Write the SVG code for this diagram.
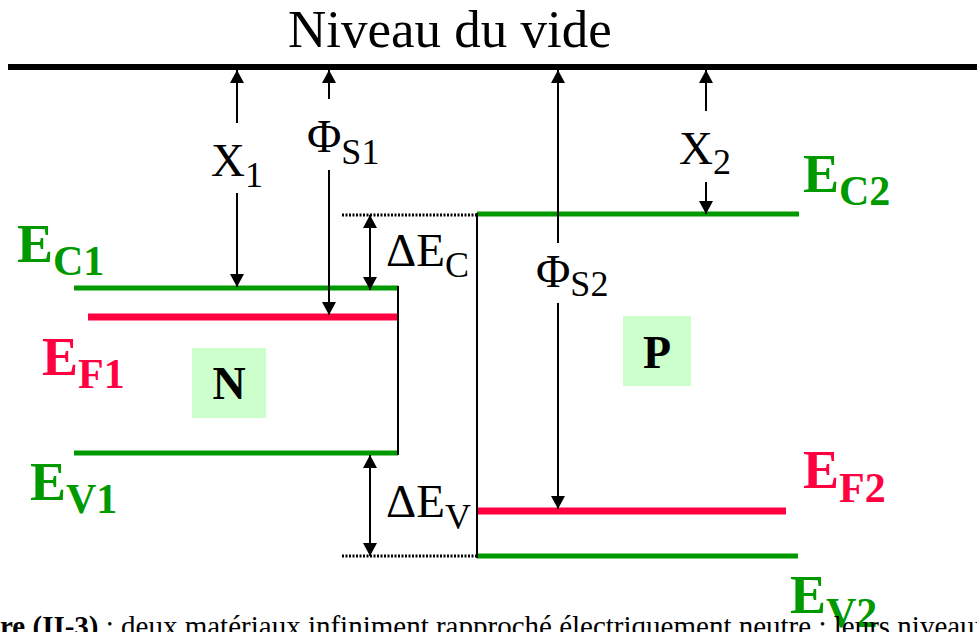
<svg xmlns="http://www.w3.org/2000/svg" width="977" height="632" viewBox="0 0 977 632">
<defs>
<style>
.t{font-family:"Liberation Serif","Times New Roman",serif;fill:#000}
.m{font-size:47px}
.s{font-size:36px}
.b{font-family:"Liberation Serif","Times New Roman",serif;font-weight:bold}
.bm{font-size:54px}
.bs{font-size:42px}
.g{fill:#009900}
.r{fill:#ff0040}
.gl{stroke:#009900;stroke-width:5;fill:none}
.rl{stroke:#ff0040;stroke-width:7;fill:none}
.k{stroke:#000;stroke-width:2;fill:none}
.a{stroke:#000;stroke-width:2;fill:none;marker-end:url(#ah)}
.d{stroke:#000;stroke-width:2;fill:none;marker-start:url(#ah);marker-end:url(#ah)}
.dot{stroke:#000;stroke-width:3;stroke-dasharray:2 1.5;fill:none}
.box{fill:#ccffcc}
</style>
<marker id="ah" markerUnits="userSpaceOnUse" markerWidth="14" markerHeight="14" refX="13" refY="7" orient="auto-start-reverse" viewBox="0 0 14 14">
<path d="M0,0 L13,7 L0,14 z" fill="#000"/>
</marker>
</defs>
<rect width="977" height="632" fill="#fff"/>

<g id="vacuum">
<line x1="8" y1="67" x2="977" y2="67" stroke="#000" stroke-width="6"/>
<text class="t" x="288" y="47" font-size="53">Niveau du vide</text>
</g>

<g id="semiconductor-N">
<line class="gl" x1="74" y1="288" x2="398" y2="288"/>
<line class="rl" x1="88" y1="317" x2="398" y2="317"/>
<line class="gl" x1="74" y1="453" x2="398" y2="453"/>
<line class="k" x1="398" y1="286" x2="398" y2="455"/>
<text class="b g" x="17" y="262"><tspan class="bm">E</tspan><tspan class="bs" dy="13">C1</tspan></text>
<text class="b r" x="42" y="375"><tspan class="bm">E</tspan><tspan class="bs" dy="13">F1</tspan></text>
<text class="b g" x="30" y="500"><tspan class="bm">E</tspan><tspan class="bs" dy="13">V1</tspan></text>
<rect class="box" x="192" y="348" width="74" height="70"/>
<text class="b" x="229" y="399" font-size="46" text-anchor="middle">N</text>
</g>

<g id="semiconductor-P">
<line class="gl" x1="477" y1="214" x2="799" y2="214"/>
<line class="rl" x1="477" y1="511" x2="786" y2="511"/>
<line class="gl" x1="477" y1="556" x2="798" y2="556"/>
<line class="k" x1="477" y1="213" x2="477" y2="558"/>
<text class="b g" x="803" y="192"><tspan class="bm">E</tspan><tspan class="bs" dy="13">C2</tspan></text>
<text class="b r" x="803" y="488"><tspan class="bm">E</tspan><tspan class="bs" dy="14">F2</tspan></text>
<text class="b g" x="790" y="613"><tspan class="bm">E</tspan><tspan class="bs" dy="14">V2</tspan></text>
<rect class="box" x="623" y="316" width="68" height="70"/>
<text class="b" x="657" y="368" font-size="46" text-anchor="middle">P</text>
</g>

<g id="offsets">
<line class="dot" x1="342" y1="215" x2="477" y2="215"/>
<line class="dot" x1="342" y1="556" x2="477" y2="556"/>
<text class="t" x="386" y="266"><tspan class="m">ΔE</tspan><tspan class="s" dy="11">C</tspan></text>
<text class="t" x="386" y="517"><tspan class="m">ΔE</tspan><tspan class="s" dy="12">V</tspan></text>
</g>

<g id="connectors">
<path class="a" d="M237,123 V70"/>
<path class="a" d="M237,193 V287"/>
<path class="a" d="M329,99 V70"/>
<path class="a" d="M329,170 V315"/>
<path class="a" d="M558,243 V70"/>
<path class="a" d="M558,303 V509"/>
<path class="a" d="M706,111 V70"/>
<path class="a" d="M706,182 V214"/>
<path class="d" d="M370,215 V290"/>
<path class="d" d="M370,455 V556"/>
</g>

<g id="labels">
<text class="t" x="211" y="176"><tspan class="m">X</tspan><tspan class="s" dy="11">1</tspan></text>
<text class="t" x="307" y="152"><tspan class="m">Φ</tspan><tspan class="s" dy="12">S1</tspan></text>
<text class="t" x="536" y="287"><tspan class="m">Φ</tspan><tspan class="s" dy="9">S2</tspan></text>
<text class="t" x="679" y="164"><tspan class="m">X</tspan><tspan class="s" dy="10">2</tspan></text>
</g>

<g id="caption">
<text class="t" x="0" y="636" font-size="29"><tspan font-weight="bold">re (II-3)</tspan> : deux matériaux infiniment rapproché électriquement neutre ; leurs niveaux</text>
</g>
</svg>
